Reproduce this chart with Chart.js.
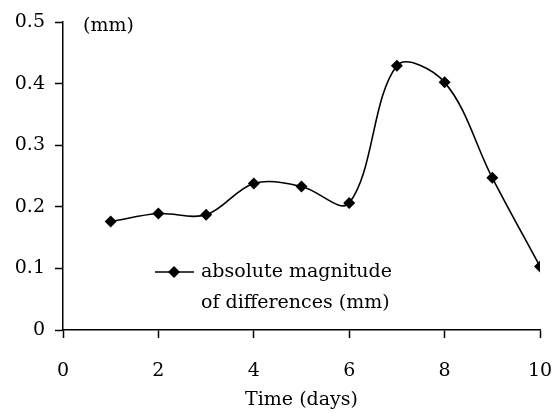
<!DOCTYPE html>
<html>
<head>
<meta charset="utf-8">
<script src="https://cdn.jsdelivr.net/npm/chart.js@4.4.1/dist/chart.umd.min.js"></script>
<style>
  html, body { margin: 0; padding: 0; background: #fff; }
  #wrap { width: 559px; height: 420px; }
</style>
</head>
<body>
<div id="wrap"><canvas id="chart" width="559" height="420"></canvas></div>
<script>
// data
const days = [1, 2, 3, 4, 5, 6, 7, 8, 9, 10];
const differences = [0.176, 0.189, 0.187, 0.238, 0.233, 0.206, 0.429, 0.402, 0.247, 0.103];
const xTicks = [0, 2, 4, 6, 8, 10];
const yTicks = [0, 0.1, 0.2, 0.3, 0.4, 0.5];
const legendLines = ['absolute magnitude', 'of differences (mm)'];

const FONT = 'DejaVu Serif';
const FS = 19;

// custom legend + "(mm)" unit label drawn inside the plot area
const annotations = {
    id: 'annotations',
    afterDraw(chart) {
        const ctx = chart.ctx;
        const area = chart.chartArea;
        ctx.save();
        ctx.fillStyle = '#000';
        ctx.strokeStyle = '#000';
        ctx.font = FS + 'px "' + FONT + '"';
        ctx.textBaseline = 'middle';
        ctx.textAlign = 'left';
        ctx.fillText('(mm)', area.left + 20, area.top + 4);

        // legend
        const lx = area.left + 92, ly = area.top + 250;
        ctx.lineWidth = 1.5;
        ctx.beginPath();
        ctx.moveTo(lx, ly);
        ctx.lineTo(lx + 39, ly);
        ctx.stroke();
        ctx.beginPath();
        const cx = lx + 19, r = 6;
        ctx.moveTo(cx, ly - r);
        ctx.lineTo(cx + r, ly);
        ctx.lineTo(cx, ly + r);
        ctx.lineTo(cx - r, ly);
        ctx.closePath();
        ctx.fill();
        legendLines.forEach((t, i) => {
            ctx.fillText(t, lx + 46, ly + i * 31);
        });
        ctx.restore();
    }
};

new Chart(document.getElementById('chart'), {
    type: 'line',
    data: {
        datasets: [{
            label: 'absolute magnitude of differences (mm)',
            data: days.map((d, i) => ({ x: d, y: differences[i] })),
            borderColor: '#000',
            backgroundColor: '#000',
            borderWidth: 1.6,
            pointStyle: 'rectRot',
            pointRadius: 6,
            pointBorderWidth: 0,
            tension: 0.35,
            fill: false
        }]
    },
    options: {
        responsive: false,
        animation: false,
        layout: { padding: { top: 22, right: 19, left: 0, bottom: 0 } },
        plugins: {
            legend: { display: false },
            tooltip: { enabled: false }
        },
        scales: {
            x: {
                type: 'linear',
                min: 0,
                max: 10,
                afterBuildTicks: s => { s.ticks = xTicks.map(v => ({ value: v })); },
                afterFit: s => { s.height = 90; s.paddingLeft = 0; s.paddingRight = 0; },
                grid: { display: true, drawOnChartArea: false, color: '#000', tickLength: 8, tickWidth: 1.5 },
                border: { color: '#000', width: 1.5 },
                ticks: { color: '#000', font: { family: FONT, size: FS }, padding: 22, maxRotation: 0 },
                title: {
                    display: true,
                    text: 'Time (days)',
                    color: '#000',
                    font: { family: FONT, size: FS },
                    padding: { top: 0, bottom: 9 }
                }
            },
            y: {
                min: 0,
                max: 0.5,
                afterBuildTicks: s => { s.ticks = yTicks.map(v => ({ value: v })); },
                afterFit: s => { s.width = 63; },
                grid: { display: true, drawOnChartArea: false, color: '#000', tickLength: 8, tickWidth: 1.5 },
                border: { color: '#000', width: 1.5 },
                ticks: {
                    color: '#000',
                    font: { family: FONT, size: FS },
                    padding: 10,
                    callback: v => v === 0 ? '0' : v.toFixed(1)
                }
            }
        }
    },
    plugins: [annotations]
});
</script>
</body>
</html>
